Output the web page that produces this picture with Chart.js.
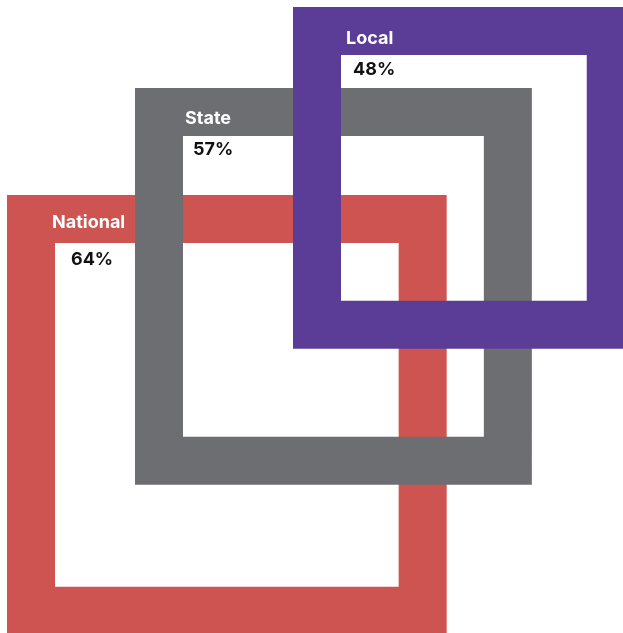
<!DOCTYPE html>
<html>
<head>
<meta charset="utf-8">
<script src="https://cdn.jsdelivr.net/npm/chart.js@4"></script>
<style>
    html, body { margin: 0; padding: 0; background: #ffffff; }
    #caixa { width: 623px; height: 633px; }
</style>
</head>
<body>
<div id="caixa"><canvas id="meu-grafico"></canvas></div>
<script>
// categorias e valores (%)
const categorias = ["National", "State", "Local"];
const valores = [64, 57, 48];
const cores = ["#CD5450", "#6D6E72", "#5B3C96"];

// layout: canto superior esquerdo da linha central de cada moldura (px)
const cantoX = [31, 159, 317];
const cantoY = [219, 112, 31];
// deslocamento dos rótulos em relação ao canto
const nomeDx = [21, 26, 29];
const nomeDy = [9, 12, 13];
const valorDx = [40, 34, 36];
const valorDy = [46, 43, 44];
const escala = 6.12;     // px por ponto percentual
const espessura = 48;    // largura da moldura

// moldura quadrada: lado proporcional ao valor
function quadrado(i) {
    const lado = valores[i] * escala;
    const x0 = cantoX[i], y0 = cantoY[i];
    return [
        {x: x0, y: y0},
        {x: x0 + lado, y: y0},
        {x: x0 + lado, y: y0 + lado},
        {x: x0, y: y0 + lado},
        {x: x0, y: y0}
    ];
}

// rótulos: nome sobre a barra de cima, valor logo abaixo
const rotulos = {
    id: 'rotulos',
    afterDatasetsDraw(chart) {
        const {ctx, scales: {x, y}} = chart;
        ctx.save();
        ctx.textAlign = 'left';
        ctx.textBaseline = 'alphabetic';
        ctx.font = "bold 18px Inter, 'Open Sans', sans-serif";
        categorias.forEach((nome, i) => {
            ctx.fillStyle = "#ffffff";
            ctx.fillText(nome, x.getPixelForValue(cantoX[i] + nomeDx[i]), y.getPixelForValue(cantoY[i] + nomeDy[i]));
            ctx.fillStyle = "#111111";
            ctx.fillText(valores[i] + "%", x.getPixelForValue(cantoX[i] + valorDx[i]), y.getPixelForValue(cantoY[i] + valorDy[i]));
        });
        ctx.restore();
    }
};

const ctx1 = document.querySelector("#meu-grafico");

new Chart(ctx1, {
    type: 'scatter',
    data: {
        datasets: categorias.map((nome, i) => ({
            label: nome,
            data: quadrado(i),
            showLine: true,
            borderColor: cores[i],
            backgroundColor: cores[i],
            borderWidth: espessura,
            borderJoinStyle: 'miter',
            borderCapStyle: 'square',
            pointRadius: 0,
            pointHoverRadius: 0,
            tension: 0,
            fill: false,
            clip: false,
            // a primeira moldura fica por baixo
            order: categorias.length - i
        }))
    },
    options: {
        responsive: true,
        maintainAspectRatio: false,
        animation: false,
        events: [],
        layout: { padding: 0 },
        scales: {
            x: { type: 'linear', min: 0, max: 623, display: false },
            y: { type: 'linear', min: 0, max: 633, reverse: true, display: false }
        },
        plugins: {
            legend: { display: false },
            tooltip: { enabled: false }
        }
    },
    plugins: [rotulos]
});
</script>
</body>
</html>
